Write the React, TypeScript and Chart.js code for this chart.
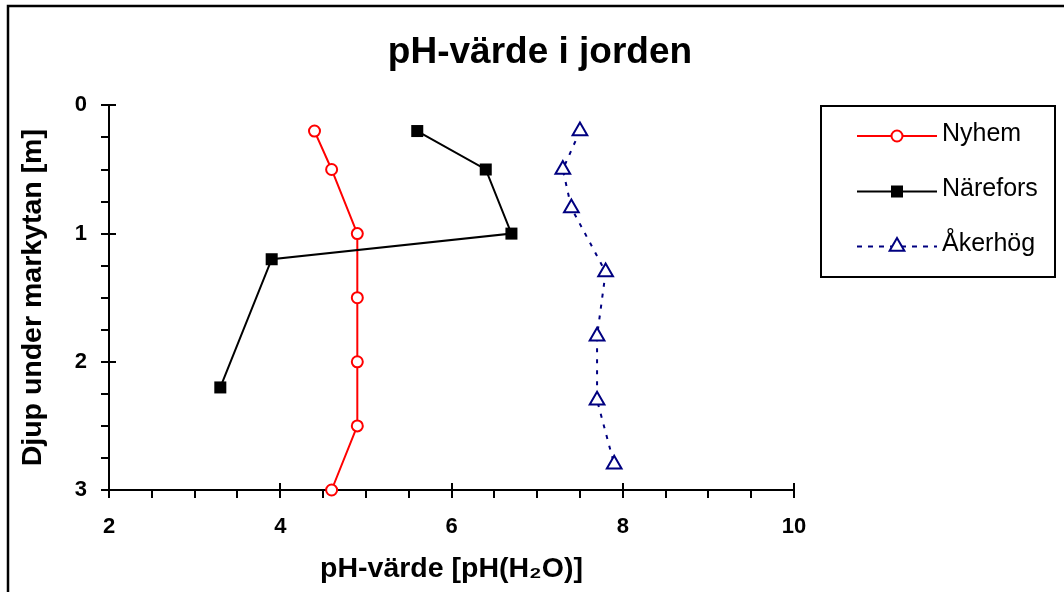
import React, { useEffect, useRef } from "react";
import { Chart, registerables } from "chart.js";

Chart.register(...registerables);

const FONT = "'Liberation Sans', Arial, sans-serif";

const chartTitle = "pH-värde i jorden";
const xAxisTitle = "pH-värde [pH(H₂O)]";
const yAxisTitle = "Djup under markytan [m]";
const seriesNames = ["Nyhem", "Närefors", "Åkerhög"];

const nyhemPH = [4.4, 4.6, 4.9, 4.9, 4.9, 4.9, 4.6];
const nyhemDepth = [0.2, 0.5, 1.0, 1.5, 2.0, 2.5, 3.0];
const narePH = [5.6, 6.4, 6.7, 3.9, 3.3];
const nareDepth = [0.2, 0.5, 1.0, 1.2, 2.2];
const akerPH = [7.5, 7.3, 7.4, 7.8, 7.7, 7.7, 7.9];
const akerDepth = [0.2, 0.5, 0.8, 1.3, 1.8, 2.3, 2.8];

const xMin = 2;
const xMax = 10;
const xMajorStep = 2;
const xMinorStep = 0.5;
const yMin = 0;
const yMax = 3;
const yMajorStep = 1;
const yMinorStep = 0.25;

const RED = "#FF0000";
const BLACK = "#000000";
const NAVY = "#000080";
const DASH = [4, 7];
const LEGEND_DASH = [5, 6];

function pts(xs: number[], ys: number[]) {
  return xs.map((x, i) => ({ x, y: ys[i] }));
}

function drawMarker(ctx: CanvasRenderingContext2D, kind: string, x: number, y: number) {
  ctx.save();
  ctx.setLineDash([]);
  if (kind === "circle") {
    ctx.beginPath();
    ctx.arc(x, y, 5.5, 0, Math.PI * 2);
    ctx.fillStyle = "#fff";
    ctx.fill();
    ctx.lineWidth = 2;
    ctx.strokeStyle = RED;
    ctx.stroke();
  } else if (kind === "rect") {
    ctx.fillStyle = BLACK;
    ctx.fillRect(x - 6, y - 6, 12, 12);
  } else {
    const r = 8.5;
    ctx.beginPath();
    ctx.moveTo(x, y - r);
    ctx.lineTo(x + r * Math.sin((2 * Math.PI) / 3), y - r * Math.cos((2 * Math.PI) / 3));
    ctx.lineTo(x + r * Math.sin((4 * Math.PI) / 3), y - r * Math.cos((4 * Math.PI) / 3));
    ctx.closePath();
    ctx.fillStyle = "#fff";
    ctx.fill();
    ctx.lineWidth = 2;
    ctx.strokeStyle = NAVY;
    ctx.stroke();
  }
  ctx.restore();
}

const decorPlugin = {
  id: "decor",
  beforeDraw(chart: any) {
    const ctx = chart.ctx as CanvasRenderingContext2D;
    ctx.save();
    ctx.fillStyle = "#fff";
    ctx.fillRect(0, 0, chart.width, chart.height);
    ctx.strokeStyle = "#000";
    ctx.lineWidth = 2.5;
    ctx.beginPath();
    ctx.moveTo(8, chart.height + 5);
    ctx.lineTo(8, 6);
    ctx.lineTo(chart.width + 5, 6);
    ctx.stroke();
    ctx.restore();
  },
  afterDraw(chart: any) {
    const ctx = chart.ctx as CanvasRenderingContext2D;
    const xs = chart.scales.x;
    const ys = chart.scales.y;
    const area = chart.chartArea;
    ctx.save();
    ctx.strokeStyle = "#000";
    ctx.lineWidth = 2;
    // y ticks
    for (let v = yMin; v <= yMax + 1e-9; v += yMinorStep) {
      const py = Math.round(ys.getPixelForValue(v));
      const major = Math.abs(v / yMajorStep - Math.round(v / yMajorStep)) < 1e-6;
      ctx.beginPath();
      ctx.moveTo(area.left - 8, py);
      ctx.lineTo(major ? area.left + 7 : area.left, py);
      ctx.stroke();
    }
    // x ticks
    for (let v = xMin; v <= xMax + 1e-9; v += xMinorStep) {
      const px = Math.round(xs.getPixelForValue(v));
      const major = Math.abs(v / xMajorStep - Math.round(v / xMajorStep)) < 1e-6;
      ctx.beginPath();
      ctx.moveTo(px, major ? area.bottom - 7 : area.bottom);
      ctx.lineTo(px, area.bottom + 8);
      ctx.stroke();
    }
    // legend
    const lx = 821, ly = 106, lw = 234, lh = 171;
    ctx.lineWidth = 2;
    ctx.strokeRect(lx, ly, lw, lh);
    const rows = [136, 191.5, 246.5];
    const colors = [RED, BLACK, NAVY];
    const kinds = ["circle", "rect", "triangle"];
    ctx.font = `25px ${FONT}`;
    ctx.textBaseline = "middle";
    ctx.textAlign = "left";
    rows.forEach((ry, i) => {
      ctx.save();
      ctx.strokeStyle = colors[i];
      ctx.lineWidth = 2;
      if (i === 2) ctx.setLineDash(LEGEND_DASH);
      ctx.beginPath();
      ctx.moveTo(857, ry);
      ctx.lineTo(937, ry);
      ctx.stroke();
      ctx.restore();
      drawMarker(ctx, kinds[i], 897, ry);
      ctx.fillStyle = "#000";
      ctx.fillText(seriesNames[i], 942, ry - 2);
    });
    ctx.restore();
  },
};

export default function App() {
  const ref = useRef<HTMLCanvasElement | null>(null);
  useEffect(() => {
    if (!ref.current) return;
    const chart = new Chart(ref.current, {
      type: "scatter",
      data: {
        datasets: [
          {
            label: seriesNames[0],
            data: pts(nyhemPH, nyhemDepth),
            showLine: true,
            borderColor: RED,
            borderWidth: 2,
            pointStyle: "circle",
            pointRadius: 5.5,
            pointBorderWidth: 2,
            pointBackgroundColor: "#fff",
            pointBorderColor: RED,
            clip: false,
            order: 2,
          },
          {
            label: seriesNames[1],
            data: pts(narePH, nareDepth),
            showLine: true,
            borderColor: BLACK,
            borderWidth: 2,
            pointStyle: "rect",
            pointRadius: 8.5,
            pointBorderWidth: 0,
            pointBackgroundColor: BLACK,
            pointBorderColor: BLACK,
            clip: false,
            order: 1,
          },
          {
            label: seriesNames[2],
            data: pts(akerPH, akerDepth),
            showLine: true,
            borderColor: NAVY,
            borderWidth: 2,
            borderDash: DASH,
            pointStyle: "triangle",
            pointRadius: 8.5,
            pointBorderWidth: 2,
            pointBackgroundColor: "#fff",
            pointBorderColor: NAVY,
            clip: false,
            order: 3,
          },
        ],
      },
      options: {
        responsive: false,
        animation: false,
        events: [],
        layout: { padding: { left: 16, right: 0, top: 0, bottom: 0 } },
        plugins: {
          legend: { display: false },
          tooltip: { enabled: false },
          title: {
            display: true,
            text: chartTitle,
            color: "#000",
            font: { family: FONT, size: 37, weight: "bold", lineHeight: 1.2 },
            padding: { top: 31, bottom: 30 },
          },
        },
        scales: {
          x: {
            type: "linear",
            position: "bottom",
            min: xMin,
            max: xMax,
            afterFit(scale: any) {
              scale.height = 102;
            },
            grid: { display: false, drawTicks: false },
            border: { display: true, color: "#000", width: 2 },
            ticks: {
              stepSize: xMajorStep,
              color: "#000",
              padding: 24,
              font: { family: FONT, size: 22, weight: "bold" },
            },
            title: {
              display: true,
              text: xAxisTitle,
              color: "#000",
              font: { family: FONT, size: 28.5, weight: "bold", lineHeight: 1.2 },
              padding: { top: 0, bottom: 6 },
            },
          },
          y: {
            type: "linear",
            position: "left",
            reverse: true,
            min: yMin,
            max: yMax,
            afterFit(scale: any) {
              scale.width = 93;
            },
            grid: { display: false, drawTicks: false },
            border: { display: true, color: "#000", width: 2 },
            ticks: {
              stepSize: yMajorStep,
              color: "#000",
              padding: 22,
              font: { family: FONT, size: 22, weight: "bold" },
            },
            title: {
              display: true,
              text: yAxisTitle,
              color: "#000",
              font: { family: FONT, size: 28.5, weight: "bold", lineHeight: 1.2 },
              padding: { top: 0, bottom: 0 },
            },
          },
          yRight: {
            type: "linear",
            position: "right",
            display: true,
            afterFit(scale: any) {
              scale.width = 270;
            },
            grid: { display: false, drawTicks: false },
            border: { display: false },
            ticks: { display: false },
          },
        },
      },
      plugins: [decorPlugin],
    } as any);
    return () => chart.destroy();
  }, []);
  return (
    <div style={{ position: "absolute", left: 0, top: 0, width: 1064, height: 592 }}>
      <canvas ref={ref} width={1064} height={592} style={{ display: "block" }} />
    </div>
  );
}
